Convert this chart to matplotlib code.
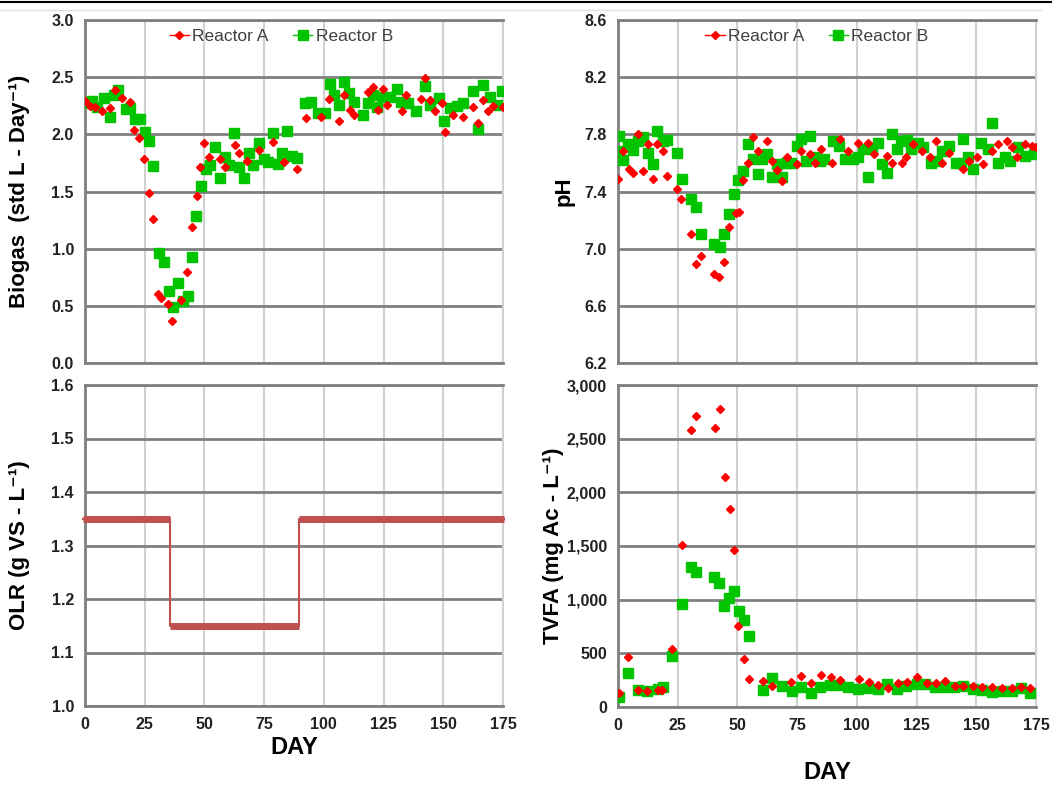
import matplotlib
matplotlib.use('Agg')
import matplotlib.pyplot as plt
from matplotlib.lines import Line2D
from matplotlib.ticker import FuncFormatter

plt.rcParams['font.family'] = ['Liberation Sans', 'DejaVu Sans']

# ---- data ----
biogas_a_day = [0, 2, 4, 7, 10.5, 12.5, 15.5, 19, 20.5, 22.6, 24.7, 26.8, 28.5, 30.6, 32, 34.7, 36.4,
                40, 42.7, 44.8, 47, 48, 50, 52, 56.5, 58.6, 62.8, 64.5, 67.8, 72.8, 78.7, 83.3, 88.7,
                92.5, 98.8, 102, 106.3, 108.4, 111, 112.6, 118.5, 120.6, 122.6, 124.7, 126.4, 132.7,
                134.4, 140.6, 142.3, 144.4, 146.5, 149.4, 150.7, 154, 158.2, 162.4, 164.5, 166.6,
                168.7, 170.8, 175]
biogas_a = [2.29, 2.25, 2.24, 2.20, 2.23, 2.39, 2.32, 2.28, 2.04, 1.97, 1.78, 1.49, 1.26, 0.60, 0.57,
            0.52, 0.37, 0.55, 0.80, 1.19, 1.46, 1.71, 1.92, 1.80, 1.78, 1.71, 1.91, 1.84, 1.77, 1.86,
            1.93, 1.76, 1.70, 2.14, 2.15, 2.31, 2.12, 2.34, 2.21, 2.17, 2.37, 2.41, 2.21, 2.40, 2.26,
            2.20, 2.34, 2.31, 2.49, 2.30, 2.20, 2.27, 2.02, 2.17, 2.15, 2.24, 2.10, 2.30, 2.20, 2.25,
            2.24]
biogas_b_day = [0, 3, 5, 8, 10.5, 12, 14, 17, 19, 21, 23, 25, 27, 28.5, 31, 33, 35, 37, 39, 41, 43,
                45, 46.5, 48.5, 50.6, 52.3, 54.4, 56.5, 58.6, 60.3, 62.4, 64.5, 66.6, 68.6, 70.3,
                72.8, 74.9, 76.6, 78.7, 80.8, 82.5, 84.6, 86.6, 88.7, 92, 94.6, 97.5, 100.5, 102.5,
                104.2, 106.3, 108.4, 110.5, 112.6, 116.4, 118.5, 120.6, 122.2, 124.7, 127.7, 130.6,
                132.3, 135.2, 138.5, 142.3, 144.4, 148.2, 150.3, 152.8, 155.7, 158.2, 162.4, 164.5,
                166.6, 169.5, 172.5, 174.5]
biogas_b = [2.27, 2.29, 2.24, 2.32, 2.15, 2.34, 2.39, 2.22, 2.23, 2.13, 2.13, 2.02, 1.94, 1.72, 0.96,
            0.88, 0.63, 0.49, 0.70, 0.54, 0.59, 0.93, 1.29, 1.55, 1.70, 1.73, 1.89, 1.62, 1.80, 1.73,
            2.01, 1.71, 1.62, 1.84, 1.73, 1.92, 1.78, 1.76, 2.01, 1.74, 1.84, 2.03, 1.81, 1.79, 2.27,
            2.28, 2.19, 2.19, 2.44, 2.34, 2.26, 2.46, 2.36, 2.28, 2.17, 2.27, 2.34, 2.24, 2.33, 2.33,
            2.40, 2.28, 2.27, 2.20, 2.42, 2.26, 2.32, 2.12, 2.23, 2.25, 2.27, 2.38, 2.05, 2.43, 2.33,
            2.26, 2.38]

ph_a_day = [0, 2, 4.6, 6.3, 8.4, 10.5, 12.6, 14.6, 16.5, 18.8, 20.5, 24.5, 26.4, 30.6, 32.6, 34.7,
            40.2, 42.3, 44.4, 46.5, 49.4, 50.6, 52.3, 54.4, 56.5, 58.6, 62.4, 64.5, 66.6, 68.6, 70.7,
            74.9, 76.6, 80.4, 82.5, 85, 89.6, 93, 96.3, 100.5, 104.7, 107.2, 112.6, 114.7, 118.9,
            120.6, 123.5, 127.3, 130.6, 133.1, 135.6, 138.5, 144.4, 146.9, 150.3, 152.8, 156.6, 159,
            162.8, 164.9, 167, 170.4, 173.3, 175]
ph_a = [7.49, 7.68, 7.56, 7.53, 7.80, 7.54, 7.73, 7.49, 7.73, 7.68, 7.51, 7.42, 7.35, 7.10, 6.89, 6.95,
        6.82, 6.80, 6.91, 7.15, 7.25, 7.26, 7.48, 7.60, 7.78, 7.68, 7.75, 7.61, 7.55, 7.47, 7.64, 7.59,
        7.68, 7.66, 7.60, 7.70, 7.60, 7.77, 7.68, 7.74, 7.74, 7.66, 7.65, 7.60, 7.60, 7.64, 7.73, 7.68,
        7.64, 7.75, 7.60, 7.67, 7.56, 7.61, 7.64, 7.59, 7.68, 7.73, 7.75, 7.71, 7.64, 7.73, 7.72, 7.71]
ph_b_day = [0, 0.5, 2, 4.2, 6.3, 8.4, 10.5, 12.6, 14.6, 16.3, 18.8, 20.5, 24.7, 26.8, 30.6, 32.6, 34.7,
            40.2, 42.7, 44.4, 46.5, 48.5, 50.2, 52.3, 54.4, 56.5, 58.6, 60.3, 62.4, 64.5, 66.6, 68.6,
            70.3, 72.4, 74.9, 76.6, 78.7, 80.4, 82.5, 84.6, 86.2, 90, 92.5, 95, 98.4, 100.5, 102.5,
            104.7, 106.3, 108.8, 110.5, 112.6, 114.7, 116.8, 118.5, 121, 122.6, 125.6, 127.7, 131,
            133.5, 135.6, 138.5, 141.5, 143.6, 144.4, 146.5, 148.6, 152, 155, 156.6, 159, 162, 164.1,
            167.4, 170.4, 174]
ph_b = [7.68, 7.79, 7.62, 7.73, 7.69, 7.75, 7.78, 7.67, 7.59, 7.82, 7.75, 7.76, 7.67, 7.49, 7.35, 7.29,
        7.10, 7.03, 7.01, 7.10, 7.24, 7.38, 7.48, 7.54, 7.73, 7.63, 7.52, 7.63, 7.66, 7.50, 7.59, 7.50,
        7.60, 7.60, 7.72, 7.77, 7.61, 7.79, 7.64, 7.61, 7.63, 7.75, 7.72, 7.63, 7.63, 7.64, 7.70, 7.50,
        7.70, 7.74, 7.59, 7.53, 7.80, 7.70, 7.75, 7.76, 7.70, 7.74, 7.71, 7.60, 7.61, 7.68, 7.72, 7.60,
        7.60, 7.77, 7.64, 7.56, 7.74, 7.70, 7.88, 7.60, 7.64, 7.61, 7.71, 7.65, 7.66]

olr_day = [-1, 35.5, 35.5, 89.5, 89.5, 175.5]
olr = [1.35, 1.35, 1.15, 1.15, 1.35, 1.35]

tvfa_a_day = [0.4, 4.2, 8.4, 12.1, 16.7, 18.4, 22.6, 26.8, 30.6, 32.6, 40.6, 42.7, 44.8, 46.9, 48.6,
              50.2, 52.7, 54.8, 60.7, 64.5, 72.4, 76.6, 80.8, 85, 89.2, 93, 101, 105.2, 109, 113,
              117.2, 121, 125.1, 129.3, 133.1, 136.9, 141.1, 144.4, 148.6, 152.4, 156.6, 160.7,
              164.9, 168.7, 172.5]
tvfa_a = [130, 466, 158, 150, 160, 158, 540, 1510, 2580, 2710, 2600, 2780, 2140, 1845, 1465, 755, 447,
          261, 242, 196, 233, 289, 224, 298, 280, 252, 261, 233, 205, 177, 224, 233, 280, 224, 224,
          242, 196, 196, 196, 186, 186, 177, 177, 186, 177]
tvfa_b_day = [0.4, 4.2, 8.4, 12.1, 16.7, 18.8, 22.6, 26.8, 30.6, 32.6, 40.2, 42.3, 44.4, 46.5, 48.6,
              50.6, 52.7, 54.8, 60.7, 64.5, 68.6, 72.8, 76.6, 80.8, 84.6, 88.7, 92.5, 96.3, 100.5,
              104.7, 108.8, 112.6, 116.8, 120.6, 125.1, 128.5, 132.7, 136.5, 140.7, 144.4, 148.6,
              152.4, 156.6, 160.7, 164.9, 168.7, 172.5]
tvfa_b = [93, 317, 158, 149, 168, 186, 475, 960, 1305, 1258, 1211, 1155, 940, 1015, 1081, 895, 810,
          660, 158, 270, 195, 149, 186, 130, 186, 205, 205, 186, 168, 177, 168, 214, 168, 196, 214,
          214, 186, 186, 186, 196, 168, 158, 140, 149, 149, 177, 130]

day_ticks = [0, 25, 50, 75, 100, 125, 150, 175]

RED = '#FF0000'
GREEN = '#00C400'
DARK = '#808080'
LIGHT = '#D0D0D0'

fig = plt.figure(figsize=(10.52, 7.85), dpi=100)
W, H = 1052, 785


def axes_px(left, top, right, bottom):
    return fig.add_axes([left / W, 1 - bottom / H, (right - left) / W, (bottom - top) / H])


def style(ax, yticks, fmt=None, xlabels=True):
    ax.set_xlim(0, 175)
    ax.set_ylim(yticks[0], yticks[-1])
    ax.set_xticks(day_ticks)
    ax.set_yticks(yticks)
    ax.set_axisbelow(True)
    ax.grid(axis='y', color=DARK, lw=2)
    ax.grid(axis='x', color=LIGHT, lw=1.5)
    for s in ['left', 'bottom', 'top']:
        ax.spines[s].set_color(DARK)
        ax.spines[s].set_linewidth(2)
    ax.spines['right'].set_color(LIGHT)
    ax.spines['right'].set_linewidth(1.5)
    ax.tick_params(length=0, labelsize=11.5, colors='#222222', pad=8)
    for lab in ax.get_xticklabels() + ax.get_yticklabels():
        lab.set_fontweight('bold')
    if fmt is not None:
        ax.yaxis.set_major_formatter(FuncFormatter(fmt))
    if not xlabels:
        ax.set_xticklabels([])


def scatter_pair(ax, xa, ya, xb, yb, legend_x):
    ax.plot(xb, yb, ls='none', marker='s', ms=6.5, color=GREEN, zorder=3)
    ax.plot(xa, ya, ls='none', marker='D', ms=4.5, color=RED, zorder=4)
    handles = [Line2D([], [], color=RED, marker='D', ms=4.5, lw=1),
               Line2D([], [], color=GREEN, marker='s', ms=6.5, lw=1)]
    leg = ax.legend(handles, ['Reactor A', 'Reactor B'], loc='upper center', ncol=2,
                    frameon=False, bbox_to_anchor=(legend_x, 1.02), handlelength=1.1,
                    handletextpad=0.2, columnspacing=1.4, fontsize=12.5)
    for t in leg.get_texts():
        t.set_color('#404040')


# Biogas
ax1 = axes_px(85, 20, 503, 363)
scatter_pair(ax1, biogas_a_day, biogas_a, biogas_b_day, biogas_b, 0.47)
style(ax1, [0.0, 0.5, 1.0, 1.5, 2.0, 2.5, 3.0], lambda v, p: f'{v:.1f}', xlabels=False)
ax1.set_ylabel('Biogas  (std L - Day⁻¹)', fontsize=16, fontweight='bold')
ax1.yaxis.set_label_coords(-0.132, 0.5)

# pH
ax2 = axes_px(618, 20, 1036, 363)
scatter_pair(ax2, ph_a_day, ph_a, ph_b_day, ph_b, 0.476)
style(ax2, [6.2, 6.6, 7.0, 7.4, 7.8, 8.2, 8.6], lambda v, p: f'{v:.1f}', xlabels=False)
ax2.set_ylabel('pH', fontsize=16, fontweight='bold')
ax2.yaxis.set_label_coords(-0.105, 0.5)

# OLR
ax3 = axes_px(85, 385, 503, 706)
ax3.plot(olr_day, olr, color='#C0504D', lw=1.5, clip_on=False, zorder=3)
for i in (0, 2, 4):
    ax3.plot(olr_day[i:i + 2], olr[i:i + 2], color='#C0504D', lw=5, clip_on=False, zorder=3,
             solid_capstyle='butt')
style(ax3, [1.0, 1.1, 1.2, 1.3, 1.4, 1.5, 1.6], lambda v, p: f'{v:.1f}')
ax3.set_ylabel('OLR (g VS - L⁻¹)', fontsize=16, fontweight='bold')
ax3.yaxis.set_label_coords(-0.132, 0.5)
ax3.set_xlabel('DAY', fontsize=17, fontweight='bold')
ax3.xaxis.set_label_coords(0.5, -0.093)

# TVFA
ax4 = axes_px(618, 385, 1036, 707)
ax4.plot(tvfa_b_day, tvfa_b, ls='none', marker='s', ms=6.5, color=GREEN, zorder=3)
ax4.plot(tvfa_a_day, tvfa_a, ls='none', marker='D', ms=4.5, color=RED, zorder=4)
style(ax4, [0, 500, 1000, 1500, 2000, 2500, 3000], lambda v, p: f'{int(v):,}')
ax4.set_ylabel('TVFA (mg Ac - L⁻¹)', fontsize=16, fontweight='bold')
ax4.yaxis.set_label_coords(-0.128, 0.5)
ax4.set_xlabel('DAY', fontsize=17, fontweight='bold')
ax4.xaxis.set_label_coords(0.5, -0.168)

# thin rules at the very top of the picture
fig.add_artist(Line2D([0, 1], [0.998, 0.998], color='black', lw=1.5))
fig.add_artist(Line2D([0.0, 0.99], [0.987, 0.987], color='#E0E0E0', lw=1))

fig.savefig('out.png', dpi=100)
